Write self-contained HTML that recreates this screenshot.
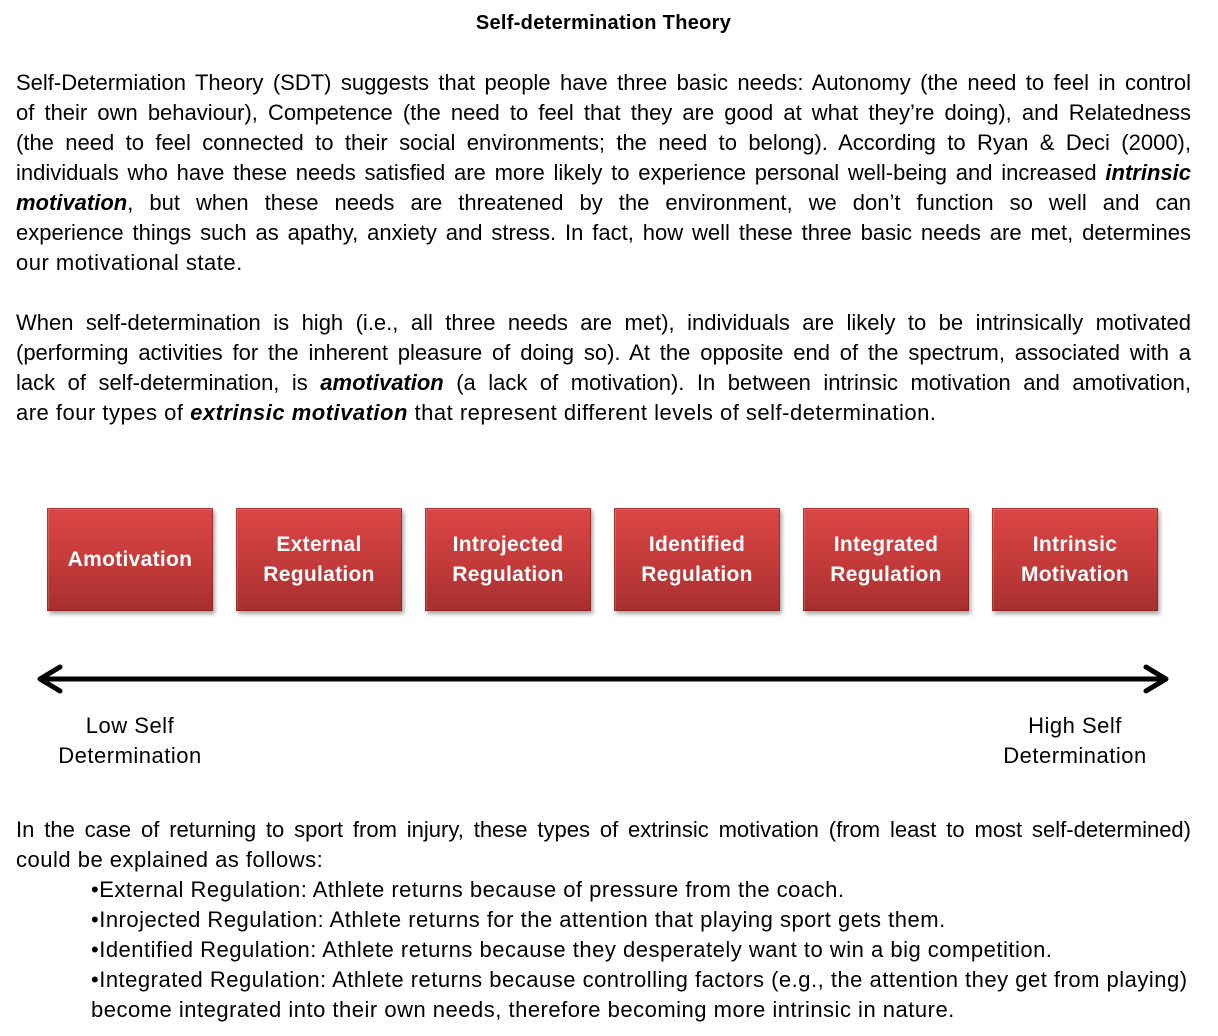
<!DOCTYPE html>
<html><head><meta charset="utf-8"><style>
body{margin:0;width:1218px;height:1036px;background:#fff;position:relative;overflow:hidden;font-family:"Liberation Sans",sans-serif;color:#000}
.l{position:absolute;left:16px;width:1175px;height:30px;line-height:30px;font-size:22px;letter-spacing:0.5px;white-space:nowrap}
.j{text-align:justify;text-align-last:justify;white-space:normal;letter-spacing:0}
.b{left:91px;width:1110px}
.box{position:absolute;top:508px;width:166px;height:103px;background:linear-gradient(#db4646,#c63b3b 50%,#a62f2f);box-shadow:2px 3px 4px rgba(0,0,0,.35),inset 0 0 0 1px rgba(120,20,20,.5),inset 2px 2px 0 rgba(255,255,255,.15);color:#fff;font-weight:bold;font-size:21px;letter-spacing:0.3px;line-height:30px;display:flex;align-items:center;justify-content:center;text-align:center}
.c{position:absolute;font-size:22px;letter-spacing:0.5px;line-height:30px;text-align:center;width:220px}
</style></head><body>
<div class="l" style="top:8px;text-align:center;font-weight:bold;font-size:20px;letter-spacing:0.3px">Self-determination Theory</div>
<div class="l j" style="top:68px">Self-Determiation Theory (SDT) suggests that people have three basic needs: Autonomy (the need to feel in control</div>
<div class="l j" style="top:98px">of their own behaviour), Competence (the need to feel that they are good at what they’re doing), and Relatedness</div>
<div class="l j" style="top:128px">(the need to feel connected to their social environments; the need to belong). According to Ryan &amp; Deci (2000),</div>
<div class="l j" style="top:158px">individuals who have these needs satisfied are more likely to experience personal well-being and increased <b><i>intrinsic</i></b></div>
<div class="l j" style="top:188px"><b><i>motivation</i></b>, but when these needs are threatened by the environment, we don’t function so well and can</div>
<div class="l j" style="top:218px">experience things such as apathy, anxiety and stress. In fact, how well these three basic needs are met, determines</div>
<div class="l" style="top:248px">our motivational state.</div>
<div class="l j" style="top:308px">When self-determination is high (i.e., all three needs are met), individuals are likely to be intrinsically motivated</div>
<div class="l j" style="top:338px">(performing activities for the inherent pleasure of doing so). At the opposite end of the spectrum, associated with a</div>
<div class="l j" style="top:368px">lack of self-determination, is <b><i>amotivation</i></b> (a lack of motivation). In between intrinsic motivation and amotivation,</div>
<div class="l" style="top:398px">are four types of <b><i>extrinsic motivation</i></b> that represent different levels of self-determination.</div>

<div class="box" style="left:47px">Amotivation</div>
<div class="box" style="left:236px">External<br>Regulation</div>
<div class="box" style="left:425px">Introjected<br>Regulation</div>
<div class="box" style="left:614px">Identified<br>Regulation</div>
<div class="box" style="left:803px">Integrated<br>Regulation</div>
<div class="box" style="left:992px">Intrinsic<br>Motivation</div>

<svg style="position:absolute;left:0;top:0" width="1218" height="1036">
<line x1="40" y1="679" x2="1166" y2="679" stroke="#000" stroke-width="5"/>
<polyline points="60,667 40,679 60,691" fill="none" stroke="#000" stroke-width="5" stroke-linecap="round" stroke-linejoin="round"/>
<polyline points="1146,667 1166,679 1146,691" fill="none" stroke="#000" stroke-width="5" stroke-linecap="round" stroke-linejoin="round"/>
</svg>

<div class="c" style="left:20px;top:711px">Low Self<br>Determination</div>
<div class="c" style="left:965px;top:711px">High Self<br>Determination</div>

<div class="l j" style="top:815px">In the case of returning to sport from injury, these types of extrinsic motivation (from least to most self-determined)</div>
<div class="l" style="top:845px">could be explained as follows:</div>
<div class="l b" style="top:875px">•External Regulation: Athlete returns because of pressure from the coach.</div>
<div class="l b" style="top:905px">•Inrojected Regulation: Athlete returns for the attention that playing sport gets them.</div>
<div class="l b" style="top:935px">•Identified Regulation: Athlete returns because they desperately want to win a big competition.</div>
<div class="l b" style="top:965px">•Integrated Regulation: Athlete returns because controlling factors (e.g., the attention they get from playing)</div>
<div class="l b" style="top:995px">become integrated into their own needs, therefore becoming more intrinsic in nature.</div>
</body></html>
